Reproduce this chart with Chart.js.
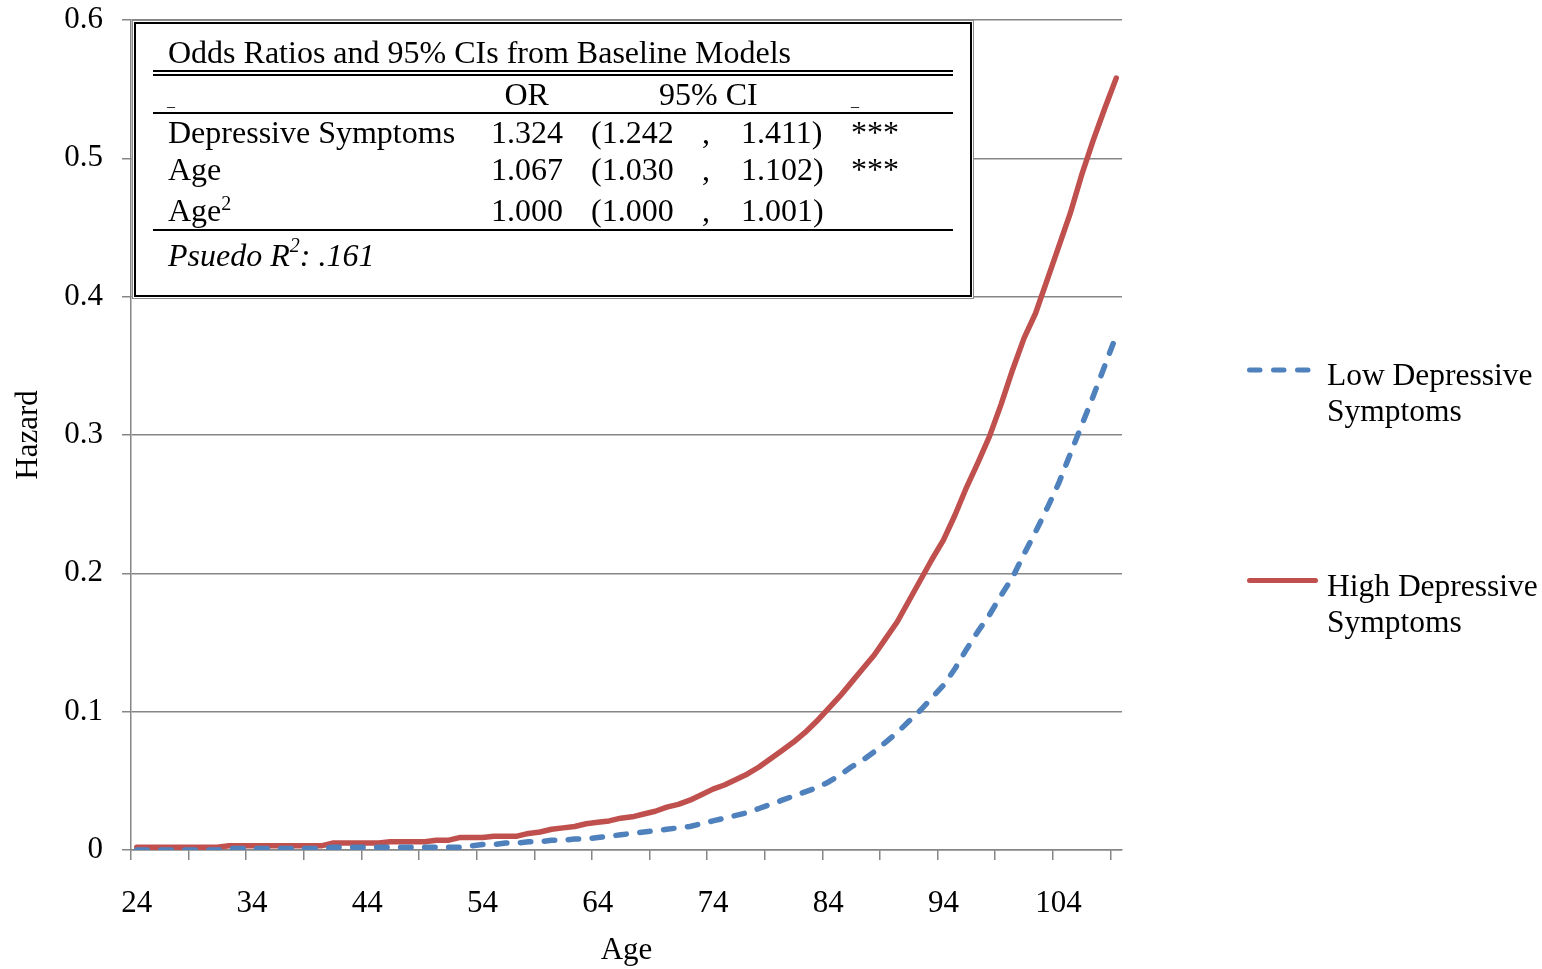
<!DOCTYPE html>
<html>
<head>
<meta charset="utf-8">
<script src="https://cdn.jsdelivr.net/npm/chart.js@4.4.1/dist/chart.umd.min.js"></script>
<style>
  html, body { margin: 0; padding: 0; background: #fff; }
  #wrap { position: relative; width: 1542px; height: 969px; }
  #box {
    position: absolute; left: 134px; top: 22px; width: 834px; height: 271px;
    border: 2px solid #000; box-shadow: 0 0 0 1px #fff, 0 0 0 2px #8a8a8a;
    background: #fff; color: #000;
    font-family: "Liberation Serif", "Times New Roman", serif; font-size: 32px;
  }
  .t { position: absolute; line-height: 31px; white-space: nowrap; }
  .rule { position: absolute; left: 17px; width: 800px; height: 2px; background: #000; }
  .sup { position: relative; font-size: 20px; line-height: 0; }
</style>
</head>
<body>
<div id="wrap">
  <canvas id="c"></canvas>
  <div id="box"></div>
</div>
<script>
var ages = [24, 25, 26, 27, 28, 29, 30, 31, 32, 33, 34, 35, 36, 37, 38, 39, 40, 41, 42, 43,
  44, 45, 46, 47, 48, 49, 50, 51, 52, 53, 54, 55, 56, 57, 58, 59, 60, 61, 62, 63,
  64, 65, 66, 67, 68, 69, 70, 71, 72, 73, 74, 75, 76, 77, 78, 79, 80, 81, 82, 83,
  84, 85, 86, 87, 88, 89, 90, 91, 92, 93, 94, 95, 96, 97, 98, 99, 100, 101, 102, 103,
  104, 105, 106, 107, 108, 109];

// hazard, one value per age
var lowDep = [0, 0, 0, 0, 0, 0, 0, 0, 0.001, 0.001, 0.001, 0.001, 0.001, 0.001, 0.001, 0.001, 0.001, 0.002, 0.002, 0.002,
  0.002, 0.002, 0.002, 0.002, 0.002, 0.002, 0.002, 0.002, 0.002, 0.003, 0.004, 0.004, 0.005, 0.005, 0.006, 0.006, 0.007, 0.007, 0.008, 0.008,
  0.009, 0.010, 0.011, 0.012, 0.013, 0.014, 0.015, 0.016, 0.017, 0.019, 0.021, 0.023, 0.025, 0.027, 0.030, 0.033, 0.036, 0.039, 0.042, 0.045,
  0.049, 0.054, 0.060, 0.065, 0.071, 0.078, 0.085, 0.093, 0.101, 0.110, 0.119, 0.131, 0.145, 0.158, 0.170, 0.184, 0.197, 0.214, 0.230, 0.247,
  0.265, 0.286, 0.307, 0.328, 0.350, 0.372];
var highDep = [0.002, 0.002, 0.002, 0.002, 0.002, 0.002, 0.002, 0.002, 0.003, 0.003, 0.003, 0.003, 0.003, 0.003, 0.003, 0.003, 0.003, 0.005, 0.005, 0.005,
  0.005, 0.005, 0.006, 0.006, 0.006, 0.006, 0.007, 0.007, 0.009, 0.009, 0.009, 0.010, 0.010, 0.010, 0.012, 0.013, 0.015, 0.016, 0.017, 0.019,
  0.020, 0.021, 0.023, 0.024, 0.026, 0.028, 0.031, 0.033, 0.036, 0.040, 0.044, 0.047, 0.051, 0.055, 0.060, 0.066, 0.072, 0.078, 0.085, 0.093,
  0.102, 0.111, 0.121, 0.131, 0.141, 0.153, 0.165, 0.180, 0.195, 0.210, 0.224, 0.242, 0.262, 0.280, 0.299, 0.322, 0.347, 0.370, 0.388, 0.412,
  0.436, 0.460, 0.488, 0.513, 0.536, 0.558];

var seriesNames = ["Low Depressive Symptoms", "High Depressive Symptoms"];
var xTickLabels = [24, 34, 44, 54, 64, 74, 84, 94, 104];
var yTickValues = [0, 0.1, 0.2, 0.3, 0.4, 0.5, 0.6];
var yTickLabels = ["0", "0.1", "0.2", "0.3", "0.4", "0.5", "0.6"];

var tableTitle = "Odds Ratios and 95% CIs from Baseline Models";
var tableHead = ["OR", "95% CI"];
var tableRows = [
  ["Depressive Symptoms", "1.324", "(1.242", ",", "1.411)", "***"],
  ["Age", "1.067", "(1.030", ",", "1.102)", "***"],
  ["Age<span class=\"sup\" style=\"top:-11px\">2</span>", "1.000", "(1.000", ",", "1.001)", ""]
];
var pseudoR2 = "<i>Psuedo R<span class=\"sup\" style=\"top:-14px\">2</span>: .161</i>";

// inset table
var box = document.getElementById("box");
function put(html, left, top, size) {
  var d = document.createElement("div");
  d.className = "t";
  d.innerHTML = html;
  d.style.left = left + "px";
  d.style.top = top + "px";
  if (size) { d.style.fontSize = size + "px"; d.style.lineHeight = size + "px"; }
  box.appendChild(d);
}
function rule(top, h) {
  var r = document.createElement("div");
  r.className = "rule";
  r.style.top = top + "px";
  r.style.height = h + "px";
  box.appendChild(r);
}
put(tableTitle, 32, 13);
rule(46, 1.6); rule(50, 1.6);
put(tableHead[0], 368.5, 55);
put(tableHead[1], 523, 55);
put("_", 31, 69, 16);
put("_", 715, 69, 16);
rule(88, 2);
var rowTops = [93, 130, 171];
var colLefts = [32, 355, 455, 566, 605, 715];
tableRows.forEach(function (row, r) {
  row.forEach(function (cell, c) { if (cell) put(cell, colLefts[c], rowTops[r]); });
});
rule(205, 2);
put(pseudoR2, 32, 216);

var GRID = "#868686";

var sideLegend = {
  id: "sideLegend",
  afterDraw: function (chart) {
    var ctx = chart.ctx;
    var spots = [{ y: 370, x1: 1249.5, x2: 1308.5, base: 385 }, { y: 580.5, x1: 1249.5, x2: 1315.5, base: 596 }];
    chart.data.datasets.forEach(function (ds, i) {
      var s = spots[i];
      ctx.save();
      ctx.strokeStyle = ds.borderColor;
      ctx.lineWidth = 5;
      ctx.lineCap = "round";
      ctx.setLineDash(ds.borderDash || []);
      ctx.beginPath();
      ctx.moveTo(s.x1, s.y);
      ctx.lineTo(s.x2, s.y);
      ctx.stroke();
      ctx.setLineDash([]);
      ctx.fillStyle = "#000";
      ctx.font = '31.5px "Liberation Serif", "Times New Roman", serif';
      ctx.textBaseline = "alphabetic";
      ctx.textAlign = "left";
      var k = ds.label.lastIndexOf(" ");
      ctx.fillText(ds.label.slice(0, k), 1327, s.base);
      ctx.fillText(ds.label.slice(k + 1), 1327, s.base + 36);
      ctx.restore();
    });
  }
};

Chart.defaults.font.family = '"Liberation Serif", "Times New Roman", serif';
Chart.defaults.font.size = 31;
Chart.defaults.color = "#000";

new Chart(document.getElementById("c"), {
  type: "line",
  data: {
    labels: ages,
    datasets: [
      { label: seriesNames[0], data: lowDep, borderColor: "#4F81BD", borderWidth: 5.5, borderDash: [10.5, 13.5],
        borderCapStyle: "round", borderJoinStyle: "round", pointRadius: 0, tension: 0, fill: false },
      { label: seriesNames[1], data: highDep, borderColor: "#C0504D", borderWidth: 5.5,
        borderCapStyle: "round", borderJoinStyle: "round", pointRadius: 0, tension: 0, fill: false }
    ]
  },
  options: {
    responsive: true,
    maintainAspectRatio: false,
    animation: false,
    layout: { padding: { left: 0, top: 20, right: 420, bottom: 0 } },
    plugins: { legend: { display: false }, tooltip: { enabled: false } },
    scales: {
      x: {
        offset: true,
        grid: {
          offset: true, drawOnChartArea: false, tickLength: 10, lineWidth: 1.5,
          color: function (c) { return (c.index !== undefined && c.index % 5 === 0) ? GRID : "rgba(0,0,0,0)"; }
        },
        border: { color: GRID, width: 1.5 },
        ticks: {
          autoSkip: false, maxRotation: 0, minRotation: 0, padding: 25,
          callback: function (v, i) { return xTickLabels.indexOf(ages[i]) >= 0 ? String(ages[i]) : ""; }
        },
        title: { display: true, text: "Age", padding: { top: 0, bottom: 0 } },
        afterFit: function (s) { s.height = 119; s.paddingLeft = 0; s.paddingRight = 0; }
      },
      y: {
        min: 0,
        max: 0.6,
        afterBuildTicks: function (s) { s.ticks = yTickValues.map(function (v) { return { value: v }; }); },
        grid: { color: GRID, lineWidth: 1.5, tickLength: 9 },
        border: { color: GRID, width: 1.5 },
        ticks: { padding: 19, callback: function (v, i) { return yTickLabels[i]; } },
        title: { display: true, text: "Hazard", padding: { top: 10, bottom: 0 } },
        afterFit: function (s) { s.width = 131; s.paddingTop = 0; s.paddingBottom = 0; }
      }
    }
  },
  plugins: [sideLegend]
});
</script>
</body>
</html>
